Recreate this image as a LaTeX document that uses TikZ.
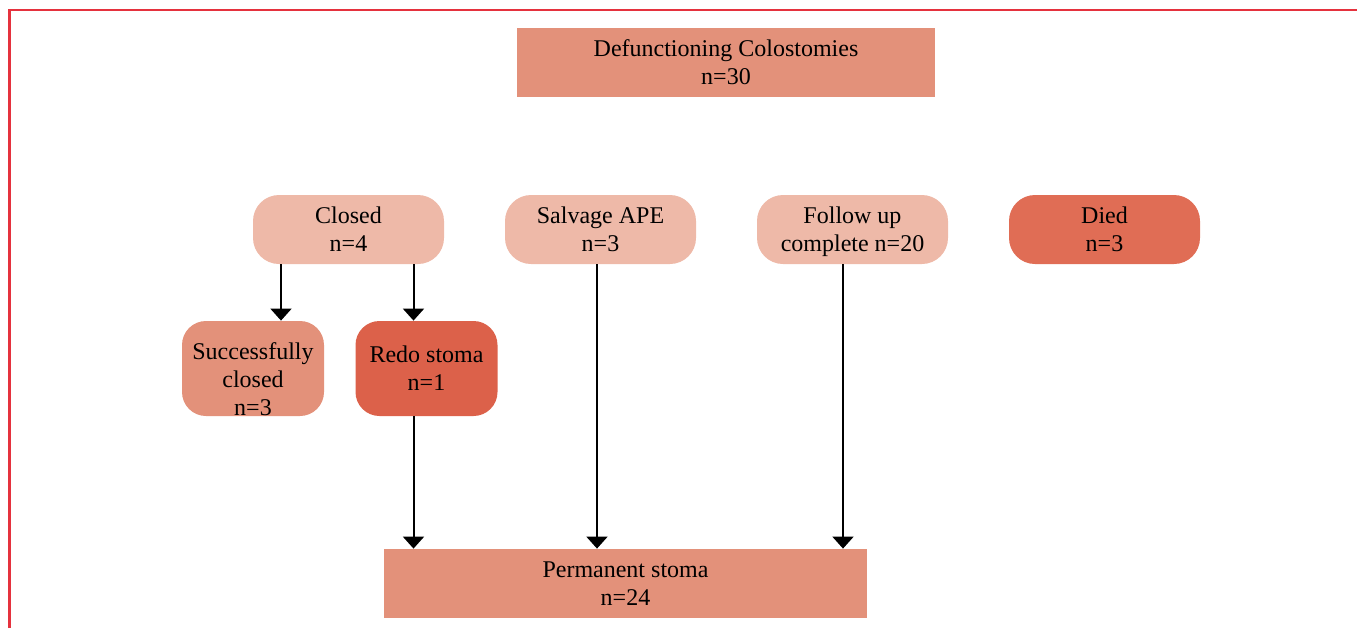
\documentclass[tikz,border=0pt]{standalone}
\usepackage{fontspec}
\setmainfont{Liberation Serif}
\definecolor{frameRed}{HTML}{E5323E}
\definecolor{boxSalmon}{HTML}{E3917A}
\definecolor{boxLight}{HTML}{EEB9A8}
\definecolor{boxDied}{HTML}{E06D55}
\definecolor{boxRedo}{HTML}{DC614A}
\usetikzlibrary{arrows.meta, positioning}

\begin{document}
\begin{tikzpicture}[x=0.5pt, y=-0.5pt,
    every node/.style={font=\fontsize{12}{14}\selectfont, align=center, inner sep=0pt},
    flatbox/.style={fill=boxSalmon, minimum height=34.5pt},
    pillbox/.style={fill=boxLight, rounded corners=13pt, minimum width=95.5pt, minimum height=34.5pt},
    subbox/.style={rounded corners=12pt, minimum width=71pt, minimum height=47.5pt},
    arr/.style={line width=1pt, -{Triangle[width=10.5pt, length=6pt]}}]
    \useasboundingbox (0,0) rectangle (1357,628);
    % Frame edges
    \draw[frameRed, line width=1.1pt] (9.5,628) -- (9.5,10) -- (1357,10);
    % Top box
    \node[flatbox, minimum width=209pt] (total) at (726,62.5)
      {Defunctioning Colostomies\\n=30};
    % Outcome row
    \node[pillbox] (closed) at (348.5,229.5) {Closed\\n=4};
    \node[pillbox] (salvage) at (600.5,229.5) {Salvage APE\\n=3};
    \node[pillbox] (follow) at (852.5,229.5) {Follow up\\\smash{complete} n=20};
    \node[pillbox, fill=boxDied] (died) at (1104.5,229.5) {Died\\n=3};
    % Closure results
    \node[subbox, fill=boxSalmon] (success) at (253,368.5)
      {\rule{0pt}{19pt}Successfully\\closed\\n=3};
    \node[subbox, fill=boxRedo] (redo) at (426.5,368.5) {Redo stoma\\n=1};
    % Bottom box
    \node[flatbox, minimum width=241.5pt] (perm) at (625.5,583.5)
      {Permanent stoma\\n=24};
    % Arrow columns
    \coordinate (colA) at (281,0);
    \coordinate (colB) at (413.5,0);
    \coordinate (colC) at (597,0);
    \coordinate (colD) at (843,0);
    \draw[arr] (closed.south -| colA) -- (success.north -| colA);
    \draw[arr] (closed.south -| colB) -- (redo.north -| colB);
    \draw[arr] (redo.south -| colB) -- (perm.north -| colB);
    \draw[arr] (salvage.south -| colC) -- (perm.north -| colC);
    \draw[arr] (follow.south -| colD) -- (perm.north -| colD);
\end{tikzpicture}
\end{document}
